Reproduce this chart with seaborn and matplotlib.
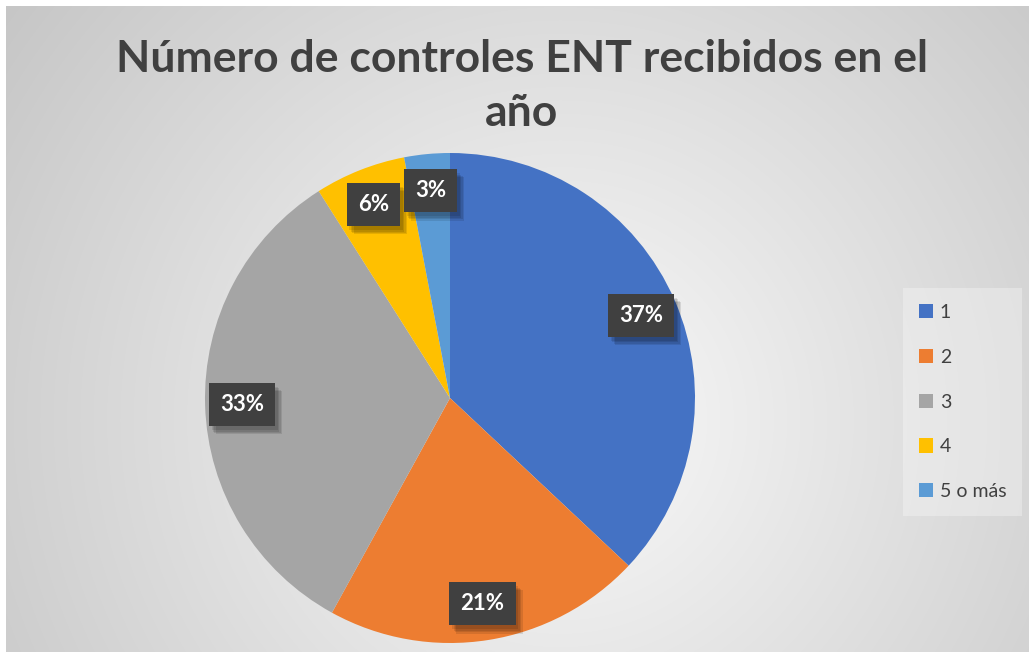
import numpy as np
import matplotlib
matplotlib.use("Agg")
import matplotlib.pyplot as plt
import matplotlib.patheffects as pe
import seaborn as sns

sns.set_theme(style="white")
plt.rcParams['font.family'] = ['Lato', 'DejaVu Sans']

# datos del grafico
categorias = ["1", "2", "3", "4", "5 o más"]
porcentajes = [37, 21, 33, 6, 3]
colores = ["#4472C4", "#ED7D31", "#A5A5A5", "#FFC000", "#5B9BD5"]
titulo = "Número de controles ENT recibidos en el\naño"

W, H = 1029, 652
fig = plt.figure(figsize=(W / 100, H / 100), dpi=100)
fig.patch.set_facecolor("white")

# fondo con degradado radial (estilo Excel)
bg = fig.add_axes([6 / W, 0, (W - 6) / W, (H - 6) / H])
yy, xx = np.mgrid[6:H, 6:W]
d = np.hypot(xx - 560, yy - 420)
g = np.clip(250 - 0.075 * d, 190, 250) / 255.0
bg.imshow(np.dstack([g, g, g]), aspect="auto", interpolation="bilinear")
bg.axis("off")

# tarta
ax = fig.add_axes([205 / W, 9 / H, 490 / W, 490 / H])
wedges, texts, autotexts = ax.pie(
    porcentajes, colors=colores, startangle=90, counterclock=False,
    autopct="%1.0f%%", pctdistance=0.85, radius=1,
    wedgeprops=dict(linewidth=0),
)
ax.set_xlim(-1, 1)
ax.set_ylim(-1, 1)
ax.set_aspect("equal")
ax.axis("off")

# sombra suave: varias capas
sombra = [pe.withSimplePatchShadow(offset=(o, -o - 1), shadow_rgbFace="black", alpha=0.1)
          for o in (5, 4, 3, 2)]
for t in autotexts:
    t.set_color("white")
    t.set_fontsize(16)
    t.set_fontweight("bold")
    t.set_bbox(dict(boxstyle="square,pad=0.5", facecolor="#404040",
                    edgecolor="none", linewidth=0))
    t.get_bbox_patch().set_path_effects(sombra)

fig.text(522 / W, 1 - 86 / H, titulo, ha="center", va="center",
         fontsize=32, fontweight="bold", color="#404040", linespacing=1.4)

leg = fig.legend(wedges, categorias, loc="center left",
                 bbox_to_anchor=(903 / W, 1 - 402 / H), frameon=True,
                 fontsize=14, handlelength=0.75, handleheight=0.75,
                 handletextpad=0.35, labelspacing=1.43, borderpad=0.8,
                 borderaxespad=0, fancybox=False)
leg.get_frame().set_facecolor("white")
leg.get_frame().set_alpha(0.3)
leg.get_frame().set_linewidth(0)
for t in leg.get_texts():
    t.set_color("#404040")

fig.savefig("out.png", dpi=100)
